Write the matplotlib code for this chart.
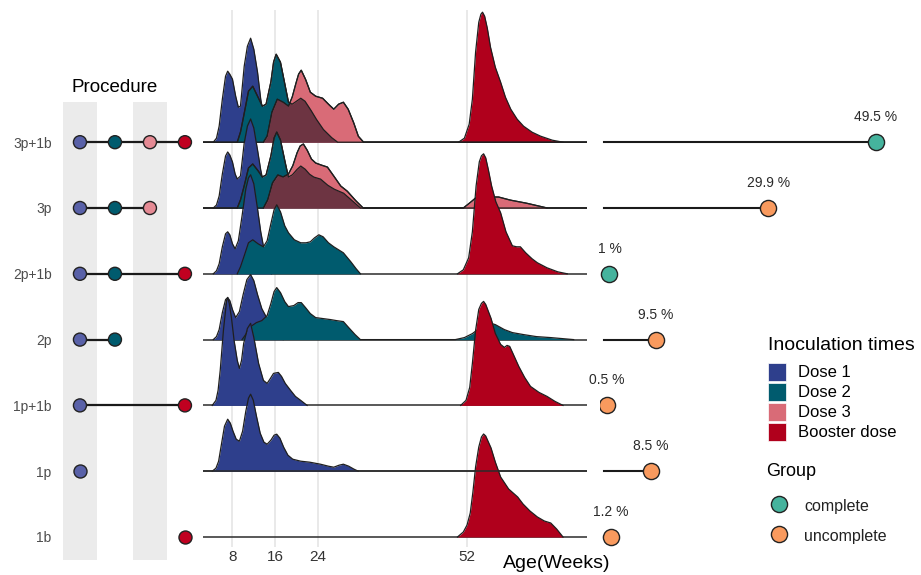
# ridgeline of vaccination ages by procedure, with procedure matrix and share lollipops
import numpy as np
import matplotlib
import matplotlib.pyplot as plt
from matplotlib.patches import Rectangle

matplotlib.use("agg")
plt.rcParams["font.family"] = ["Liberation Sans", "DejaVu Sans"]

W, H = 921, 575

# procedures, bottom row first
procedures = ["1b", "1p", "1p+1b", "2p", "2p+1b", "3p", "3p+1b"]
doses = ["Dose 1", "Dose 2", "Dose 3", "Booster dose"]
proc_steps = [[4], [1], [1, 4], [1, 2], [1, 2, 4], [1, 2, 3], [1, 2, 3, 4]]

# share of infants by procedure (%)
share_pct = [1.2, 8.5, 0.5, 9.5, 1, 29.9, 49.5]
share_group = ["uncomplete", "uncomplete", "uncomplete", "uncomplete",
               "complete", "uncomplete", "complete"]

# age densities (week, relative density)
dens_3p1b_d1 = [(4.4, 0), (5.0, 4), (5.5, 16), (6.1, 43), (6.7, 66), (7.1, 71), (7.5, 68), (8.0, 63), (8.6, 46),
                (9.1, 35), (9.5, 36), (10.2, 76), (10.8, 96), (11.4, 104), (12.0, 93), (12.7, 70), (13.3, 43),
                (14.0, 22), (14.7, 8), (15.3, 0)]
dens_3p1b_d2 = [(8.9, 0), (9.5, 10), (10.1, 26), (11.0, 51), (11.8, 56), (12.7, 46), (13.6, 36), (14.3, 38),
                (15.2, 60), (15.7, 80), (16.2, 88), (17.0, 80), (17.9, 56), (18.5, 40), (19.2, 38), (20.0, 41),
                (20.8, 44), (21.6, 41), (22.6, 33), (23.6, 24), (25.0, 13), (26.5, 5), (27.7, 0)]
dens_3p1b_d3 = [(13.8, 0), (14.5, 6), (15.4, 30), (16.4, 43), (17.5, 40), (18.5, 36), (19.2, 45), (19.8, 57),
                (20.4, 68), (20.9, 72), (21.7, 63), (22.6, 50), (23.6, 46), (24.9, 44), (26.0, 38), (27.0, 33),
                (27.9, 38), (28.8, 40), (29.7, 33), (30.7, 20), (31.6, 6), (32.6, 0)]
dens_3p1b_bst = [(50.4, 0), (51.5, 4), (52.4, 18), (53.0, 43), (53.6, 90), (54.2, 120), (54.6, 128), (54.9, 130),
                 (55.3, 126), (55.8, 114), (56.4, 95), (57.3, 75), (58.3, 60), (59.2, 45), (60.2, 33), (61.4, 23),
                 (62.6, 16), (64.2, 10), (65.8, 6), (68.0, 2), (70.0, 0)]

dens_3p_d1 = [(4.4, 0), (5.0, 3), (5.5, 12), (6.1, 34), (6.7, 52), (7.1, 56), (7.5, 53), (8.0, 46), (8.5, 34),
              (8.9, 29), (9.5, 32), (10.2, 65), (10.8, 82), (11.4, 89), (12.0, 80), (12.7, 58), (13.3, 38),
              (14.0, 20), (14.7, 7), (15.3, 0)]
dens_3p_d2 = [(8.9, 0), (9.5, 8), (10.1, 20), (11.0, 40), (11.8, 44), (12.7, 38), (13.6, 31), (14.3, 33),
              (15.2, 52), (15.8, 70), (16.3, 76), (17.0, 68), (17.9, 45), (18.5, 31), (19.2, 33), (20.0, 38),
              (20.8, 42), (21.6, 39), (22.4, 34), (23.2, 31), (24.5, 29), (25.8, 23), (27.0, 19), (28.8, 15),
              (30.5, 7), (32.0, 0)]
dens_3p_d3 = [(13.8, 0), (14.6, 8), (15.5, 25), (16.5, 33), (17.5, 31), (18.5, 34), (19.3, 42), (20.1, 55),
              (20.7, 62), (21.3, 64), (22.0, 58), (22.8, 49), (23.6, 45), (24.6, 43), (25.8, 41), (27.0, 32),
              (28.3, 22), (29.5, 17), (31.0, 8), (32.5, 0), (51.3, 0), (52.5, 5), (53.6, 10), (55.0, 10),
              (56.5, 11), (57.9, 11), (60.0, 8), (63.0, 5), (67.0, 0)]

dens_2p1b_d1 = [(4.4, 0), (5.0, 3), (5.5, 10), (6.1, 27), (6.7, 40), (7.1, 42), (7.5, 39), (8.0, 30), (8.5, 25),
                (9.1, 33), (9.8, 58), (10.5, 85), (11.0, 96), (11.4, 99), (12.0, 90), (12.7, 65), (13.3, 42),
                (14.0, 22), (14.7, 8), (15.3, 0)]
dens_2p1b_d2 = [(8.9, 0), (9.5, 7), (10.2, 18), (11.0, 31), (11.8, 34), (12.8, 30), (13.8, 27), (14.5, 33),
                (15.2, 50), (15.8, 64), (16.3, 69), (17.0, 62), (17.8, 48), (18.5, 41), (19.6, 34), (20.8, 31),
                (21.8, 31), (22.6, 32), (23.4, 36), (24.2, 39), (25.0, 37), (26.0, 31), (27.0, 27), (28.8, 21),
                (30.2, 12), (31.2, 5), (32.0, 0)]
dens_2p1b_bst = [(50.2, 0), (51.3, 4), (52.3, 16), (53.0, 42), (53.7, 88), (54.3, 112), (54.7, 118), (55.1, 120),
                 (55.5, 116), (56.0, 104), (56.6, 88), (57.4, 72), (58.3, 61), (59.3, 42), (60.5, 28), (61.3, 27),
                 (62.0, 27), (63.0, 21), (64.2, 15), (65.2, 11), (67.0, 6), (69.0, 2), (70.8, 0)]

dens_2p_d1 = [(4.4, 0), (5.0, 3), (5.5, 10), (6.1, 27), (6.7, 40), (7.1, 42), (7.5, 39), (8.0, 30), (8.6, 22),
              (9.3, 28), (10.0, 45), (10.7, 60), (11.4, 65), (12.0, 59), (12.7, 45), (13.5, 31), (14.5, 21),
              (15.5, 12), (16.5, 5), (17.5, 0)]
dens_2p_d2 = [(9.8, 0), (10.6, 6), (11.4, 13), (12.5, 17), (13.5, 19), (14.5, 24), (15.2, 36), (15.8, 48),
              (16.3, 52), (17.0, 47), (17.8, 38), (18.5, 33), (19.5, 34), (20.3, 37), (20.9, 37), (21.7, 32),
              (22.6, 26), (23.6, 22), (25.0, 21), (26.4, 20), (27.5, 19), (28.8, 18), (29.8, 12), (31.0, 5),
              (32.0, 0), (49.8, 0), (51.5, 2), (53.0, 6), (54.0, 10), (55.0, 15), (56.0, 17), (57.3, 15),
              (59.0, 10), (60.5, 7), (62.6, 5), (65.0, 3), (67.7, 2), (72.0, 0)]

dens_1p1b_d1 = [(4.2, 0), (4.9, 5), (5.3, 15), (5.7, 35), (6.3, 75), (6.9, 105), (7.1, 108), (7.4, 102),
                (7.8, 88), (8.3, 65), (8.9, 45), (9.3, 37), (9.7, 45), (10.1, 62), (10.8, 77), (11.4, 82),
                (12.0, 68), (12.9, 42), (13.8, 25), (14.5, 22), (15.0, 26), (15.7, 32), (16.6, 33), (17.2, 29),
                (17.9, 22), (18.9, 15), (19.8, 9), (20.8, 5), (22.0, 0)]
dens_1p1b_bst = [(50.8, 0), (51.8, 5), (52.5, 18), (53.0, 42), (53.6, 75), (54.2, 96), (54.7, 102), (55.1, 104),
                 (55.5, 101), (56.0, 94), (56.5, 87), (57.3, 72), (58.3, 61), (59.0, 58), (59.5, 60), (60.0, 59),
                 (60.6, 52), (61.7, 39), (62.8, 28), (63.9, 19), (65.5, 13), (67.0, 9), (68.5, 4), (70.0, 0)]

dens_1p_d1 = [(4.2, 0), (4.9, 3), (5.4, 10), (5.9, 26), (6.5, 45), (7.1, 52), (7.6, 48), (8.1, 40), (8.7, 32),
              (9.3, 30), (9.9, 40), (10.5, 60), (11.0, 73), (11.4, 77), (11.9, 71), (12.5, 55), (13.2, 38),
              (13.9, 29), (14.5, 27), (15.2, 31), (15.8, 36), (16.3, 37), (16.9, 33), (17.6, 24), (18.4, 16),
              (19.3, 12), (20.8, 10), (22.5, 9), (24.5, 7), (26.0, 5), (27.0, 4), (28.0, 6), (28.8, 7),
              (29.8, 5), (30.8, 2), (31.6, 0)]

dens_1b_bst = [(50.2, 0), (51.3, 5), (52.0, 12), (52.6, 24), (53.1, 45), (53.6, 70), (54.2, 90), (54.7, 100),
               (55.1, 103), (55.5, 101), (56.0, 95), (56.5, 89), (57.3, 75), (58.3, 60), (59.8, 48), (61.5, 40),
               (62.5, 33), (63.8, 26), (65.2, 20), (66.5, 16), (67.7, 14), (68.8, 8), (70.0, 0)]

# curves per procedure, in dose order (same order as procedures)
ridge_curves = [
    [None, None, None, dens_1b_bst],
    [dens_1p_d1, None, None, None],
    [dens_1p1b_d1, None, None, dens_1p1b_bst],
    [dens_2p_d1, dens_2p_d2, None, None],
    [dens_2p1b_d1, dens_2p1b_d2, None, dens_2p1b_bst],
    [dens_3p_d1, dens_3p_d2, dens_3p_d3, None],
    [dens_3p1b_d1, dens_3p1b_d2, dens_3p1b_d3, dens_3p1b_bst],
]

week_ticks = [8, 16, 24, 52]

ridge_colors = ["#2E3F8C", "#005B6E", "#D96B77", "#B0001C"]
dot_colors = ["#5961A8", "#005B6E", "#E58A94", "#C00020"]
overlap_color = "#6D3442"
group_colors = {"complete": "#45B39D", "uncomplete": "#F99A5E"}

ROW0_PX = 537   # pixel row of the bottom ridge baseline
ROW_PX = 65.8   # pixel spacing between rows
RIDGE_SCALE = 1 / ROW_PX

fig = plt.figure(figsize=(W / 100, H / 100), dpi=100)


def add_axes_px(x0, y0, x1, y1):
    ax = fig.add_axes([x0 / W, 1 - y1 / H, (x1 - x0) / W, (y1 - y0) / H])
    ax.set_ylim((ROW0_PX - y1) / ROW_PX, (ROW0_PX - y0) / ROW_PX)
    for s in ax.spines.values():
        s.set_visible(False)
    return ax


# ---- middle: ridgelines
ax = add_axes_px(203, 10, 587, 547)
xmin, xmax = 2.47, 74.5
ax.set_xlim(xmin, xmax)
for w in week_ticks:
    ax.axvline(w, color="#E3E3E3", lw=1.1, zorder=0)
ax.set_xticks(week_ticks)
ax.set_xticklabels([str(w) for w in week_ticks], fontsize=11, color="#333333")
ax.tick_params(axis="x", length=0, pad=2)
ax.set_yticks([])

grid = np.linspace(xmin, xmax, 2000)
z = 1
line_kw = dict(color="#1f1f1f", lw=0.9)
for i in range(len(procedures) - 1, -1, -1):
    curves = ridge_curves[i]
    ax.plot([xmin, xmax], [i, i], color="#2b2b2b", lw=1.1, zorder=z)
    z += 1
    for k, c in enumerate(curves):
        if c is None:
            continue
        wk = [p[0] for p in c]
        d = np.array([p[1] for p in c]) * RIDGE_SCALE
        ax.fill_between(wk, i, i + d, color=ridge_colors[k], lw=0, zorder=z)
        ax.plot(wk, i + d, zorder=z + 0.5, **line_kw)
        z += 1
    if curves[1] is not None and curves[2] is not None:
        d2 = np.interp(grid, [p[0] for p in curves[1]], [p[1] for p in curves[1]]) * RIDGE_SCALE
        d3 = np.interp(grid, [p[0] for p in curves[2]], [p[1] for p in curves[2]]) * RIDGE_SCALE
        ax.fill_between(grid, i, i + np.minimum(d2, d3), color=overlap_color, lw=0, zorder=z)
        ax.plot(grid, i + d2, zorder=z + 0.5, **line_kw)
        ax.plot(grid, i + d3, zorder=z + 0.5, **line_kw)
        z += 1

# the 1p baseline sits on top of the 1b booster ridge in the original
ax.plot([xmin, xmax], [1, 1], color="#2b2b2b", lw=1.1, zorder=z + 1)

fig.text(503 / W, 1 - 564 / H, "Age(Weeks)", ha="left", va="center", fontsize=14)

# ---- left: procedure matrix
axl = add_axes_px(60, 102, 200, 560)
axl.set_xlim(0.43, 4.43)
for col in [1, 3]:
    axl.axvspan(col - 0.486, col + 0.486, color="#EBEBEB", lw=0, zorder=0)
for i, steps in enumerate(proc_steps):
    if len(steps) > 1:
        axl.plot([min(steps), max(steps)], [i, i], color="#1a1a1a", lw=1.6, zorder=2)
    axl.scatter(steps, [i] * len(steps), s=88, c=[dot_colors[s - 1] for s in steps],
                edgecolors="#222222", linewidths=1, zorder=3)
axl.set_xticks([])
axl.set_yticks(range(len(procedures)))
axl.set_yticklabels(procedures, fontsize=10, color="#4D4D4D")
axl.tick_params(axis="y", length=0, pad=6)
fig.text(115 / W, 1 - 88 / H, "Procedure", ha="center", va="center", fontsize=13.5)

# ---- right: share lollipops
axr = add_axes_px(600, 10, 905, 547)
axr.set_xlim(-4 / 5.49, 301 / 5.49)
axr.set_xticks([])
axr.set_yticks([])
axr.patch.set_alpha(0)
for i, (v, g) in enumerate(zip(share_pct, share_group)):
    axr.plot([0, v], [i, i], color="#1a1a1a", lw=1.5, zorder=2)
    axr.scatter([v], [i], s=135, c=group_colors[g], edgecolors="#222222", linewidths=1, zorder=3)
    axr.text(v, i + 0.38, f"{v:g} %", ha="center", va="center", fontsize=10, color="#2a2a2a")

# ---- legend
axg = fig.add_axes([0, 0, 1, 1])
axg.set_xlim(0, W)
axg.set_ylim(H, 0)
axg.axis("off")
axg.text(768, 345, "Inoculation times", ha="left", va="center", fontsize=14)
for k, name in enumerate(doses):
    top = 363 + 20 * k
    axg.add_patch(Rectangle((768, top), 18, 18, facecolor=ridge_colors[k], edgecolor="white", lw=0.5))
    axg.text(798, top + 9.5, name, ha="left", va="center", fontsize=12)
axg.text(766, 471, "Group", ha="left", va="center", fontsize=13)
for k, g in enumerate(["complete", "uncomplete"]):
    yy = 504 + 30 * k
    axg.scatter([779], [yy], s=135, c=group_colors[g], edgecolors="#222222", linewidths=1)
    axg.text(804, yy + 2, g, ha="left", va="center", fontsize=11.5, color="#222222")

fig.savefig("out.png", dpi=100)
